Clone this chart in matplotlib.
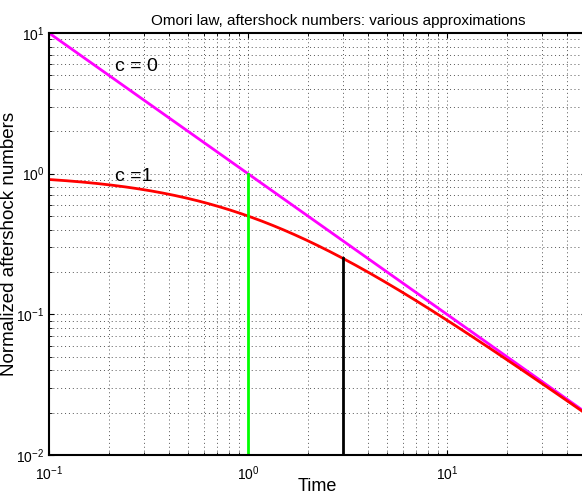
import numpy as np
import matplotlib.pyplot as plt

plt.rcParams['font.family'] = ['Liberation Sans', 'DejaVu Sans']
plt.rcParams['mathtext.fontset'] = 'custom'
plt.rcParams['mathtext.rm'] = 'Liberation Sans'
plt.rcParams['mathtext.it'] = 'Liberation Sans:italic'
plt.rcParams['mathtext.bf'] = 'Liberation Sans:bold'

t_start = 0.1
t_end = 50
c_values = [0, 1]
curve_colors = ['#ff00ff', '#ff0000']
curve_labels = ['c = 0', 'c =1']
label_pos = [(0.215, 5.8), (0.215, 0.96)]
marker_times = [1, 3]
marker_colors = ['#00ff00', 'black']


def omori(t, c):
    return 1.0 / (t + c)


t = np.logspace(np.log10(t_start), np.log10(t_end), 500)

fig = plt.figure(figsize=(5.82, 4.95), dpi=100)
# the original is cropped on the right, so the axes runs a few pixels past the edge
ax = fig.add_axes([0.0842, 0.0808, 0.9227, 0.8525])

for c, col in zip(c_values, curve_colors):
    ax.loglog(t, omori(t, c), color=col, linewidth=2)

# verticals: green at t=1 up to the c=0 curve, black at t=3 up to the c=1 curve
ax.plot([marker_times[0]] * 2, [0.01, omori(marker_times[0], 0)], color=marker_colors[0], linewidth=2)
ax.plot([marker_times[1]] * 2, [0.01, omori(marker_times[1], 1)], color=marker_colors[1], linewidth=2)

for txt, (x, y) in zip(curve_labels, label_pos):
    ax.text(x, y, txt, fontsize=14, va='center', ha='left')

ax.set_xlim(t_start, t_end)
ax.set_ylim(1e-2, 1e1)
ax.grid(True, which='both', linestyle=(0, (1, 3)), color='#555555', linewidth=0.7)
ax.tick_params(which='both', direction='in', top=True, right=True, labelsize=10)
ax.tick_params(axis='x', pad=7)
for s in ax.spines.values():
    s.set_linewidth(1.5)

ax.set_title('Omori law, aftershock numbers: various approximations', fontsize=11, x=0.538)
ax.set_xlabel('Time', fontsize=13, labelpad=-4)
ax.set_ylabel('Normalized aftershock numbers', fontsize=13.5)
ax.yaxis.set_label_coords(-0.058, 0.5)

fig.savefig('out.png', dpi=100)
